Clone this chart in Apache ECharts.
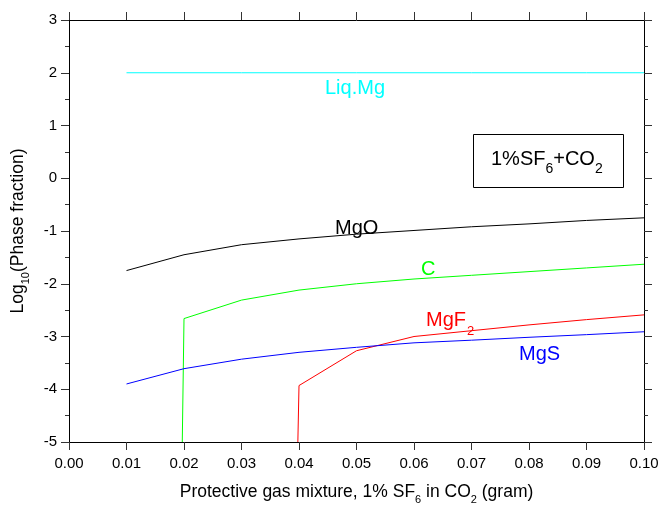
<!DOCTYPE html>
<html>
<head>
<meta charset="utf-8">
<script src="https://cdn.jsdelivr.net/npm/echarts@6/dist/echarts.min.js"></script>
<style>
html,body{margin:0;padding:0;background:#fff;}
#chart{width:661px;height:505px;}
</style>
</head>
<body>
<div id="chart"></div>
<script>
// ---- data ----
const xVals = [0.01, 0.02, 0.03, 0.04, 0.05, 0.06, 0.07, 0.08, 0.09, 0.10];
const liqMg = [2, 2, 2, 2, 2, 2, 2, 2, 2, 2];
const mgO = [-1.75, -1.45, -1.26, -1.15, -1.06, -0.99, -0.92, -0.865, -0.80, -0.75];
const cX = [0.0197, 0.02, 0.03, 0.04, 0.05, 0.06, 0.07, 0.08, 0.09, 0.10];
const cY = [-5, -2.66, -2.31, -2.12, -2.0, -1.91, -1.84, -1.77, -1.70, -1.63];
const mgF2X = [0.0398, 0.04, 0.05, 0.06, 0.07, 0.08, 0.09, 0.10];
const mgF2Y = [-5, -3.93, -3.27, -3.0, -2.89, -2.78, -2.68, -2.59];
const mgS = [-3.90, -3.61, -3.43, -3.30, -3.205, -3.12, -3.07, -3.015, -2.965, -2.91];

const FONT = 'Arial, "Liberation Sans", sans-serif';
const pair = (xs, ys) => xs.map((x, i) => [x, ys[i]]);

const chart = echarts.init(document.getElementById('chart'));

const baseX = {
  type: 'value', min: 0, max: 0.1, interval: 0.01,
  axisLine: { show: true, onZero: false, lineStyle: { color: '#000', width: 1 } },
  axisTick: { show: true, inside: false, length: 8, lineStyle: { color: '#333' } },
  splitLine: { show: false }
};
const baseY = {
  type: 'value', min: -5, max: 3, interval: 1,
  axisLine: { show: true, onZero: false, lineStyle: { color: '#000', width: 1 } },
  axisTick: { show: true, inside: false, length: 8, lineStyle: { color: '#333' } },
  minorTick: { show: true, splitNumber: 2, length: 4, lineStyle: { color: '#333' } },
  splitLine: { show: false }
};

const nameRich = {
  n: { fontSize: 17.5, lineHeight: 20, fontFamily: FONT, color: '#000' },
  s: { fontSize: 11, lineHeight: 2, verticalAlign: 'top', padding: [12, 0, 0, 0], fontFamily: FONT, color: '#000' }
};

const lineSeries = (name, data, color) => ({
  name, type: 'line', data, showSymbol: false, symbol: 'none',
  lineStyle: { color, width: 1 }, itemStyle: { color }, animation: false
});

chart.setOption({
  animation: false,
  textStyle: { fontFamily: FONT },
  grid: { left: 69, right: 17, top: 20, bottom: 63, containLabel: false, outerBoundsMode: 'none' },
  xAxis: [
    Object.assign({}, baseX, {
      position: 'bottom',
      axisLabel: { show: true, color: '#000', fontSize: 15, fontFamily: FONT, margin: 14,
        formatter: v => v.toFixed(2) },
      name: '{n|Protective gas mixture, 1% SF}{s|6}{n| in CO}{s|2}{n| (gram)}',
      nameLocation: 'middle', nameGap: 40,
      nameTextStyle: { color: '#000', fontFamily: FONT, rich: nameRich }
    }),
    Object.assign({}, baseX, { position: 'top', axisLabel: { show: false } })
  ],
  yAxis: [
    Object.assign({}, baseY, {
      position: 'left',
      axisLabel: { show: true, color: '#000', fontSize: 15, fontFamily: FONT, margin: 12 },
      name: '{n|Log}{s|10}{n|(Phase fraction)}',
      nameLocation: 'middle', nameGap: 41, nameRotate: 90,
      nameTextStyle: { color: '#000', fontFamily: FONT, rich: nameRich }
    }),
    Object.assign({}, baseY, { position: 'right', axisLabel: { show: false } })
  ],
  series: [
    lineSeries('Liq.Mg', pair(xVals, liqMg), '#00FFFF'),
    lineSeries('MgO', pair(xVals, mgO), '#000000'),
    lineSeries('C', pair(cX, cY), '#00FF00'),
    lineSeries('MgF2', pair(mgF2X, mgF2Y), '#FF0000'),
    lineSeries('MgS', pair(xVals, mgS), '#0000FF')
  ],
  graphic: [
    { type: 'text', left: 325, top: 78, style: { text: 'Liq.Mg', fill: '#00FFFF', font: '20px ' + FONT } },
    { type: 'text', left: 335, top: 218, style: { text: 'MgO', fill: '#000', font: '20px ' + FONT } },
    { type: 'text', left: 421, top: 259, style: { text: 'C', fill: '#00FF00', font: '20px ' + FONT } },
    { type: 'text', left: 426, top: 308, style: {
        text: '{n|MgF}{s|2}', fill: '#FF0000',
        rich: { n: { fontSize: 20, lineHeight: 24, fontFamily: FONT, fill: '#FF0000' },
                s: { fontSize: 13, lineHeight: 2, verticalAlign: 'top', padding: [17, 0, 0, 1], fontFamily: FONT, fill: '#FF0000' } } } },
    { type: 'text', left: 519, top: 344, style: { text: 'MgS', fill: '#0000FF', font: '20px ' + FONT } },
    { type: 'rect', left: 473, top: 134, shape: { width: 150, height: 53 },
      style: { fill: '#fff', stroke: '#000', lineWidth: 1 } },
    { type: 'text', left: 491, top: 148, style: {
        text: '{n|1%SF}{s|6}{n|+CO}{s|2}', fill: '#000',
        rich: { n: { fontSize: 20, lineHeight: 23, fontFamily: FONT, fill: '#000' },
                s: { fontSize: 14, lineHeight: 2, verticalAlign: 'top', padding: [14, 0, 0, 0], fontFamily: FONT, fill: '#000' } } } }
  ]
});
</script>
</body>
</html>
